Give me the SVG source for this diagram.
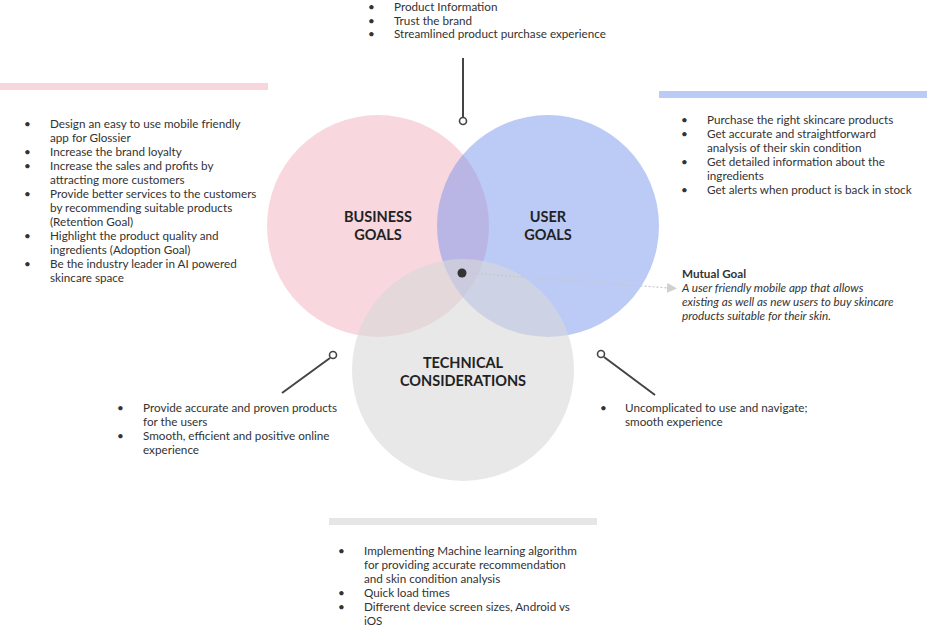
<svg xmlns="http://www.w3.org/2000/svg" width="927" height="626" viewBox="0 0 927 626">
<style>
.t{font-family:Lato,"Open Sans","Liberation Sans",sans-serif;font-size:11.7px;fill:#333}
.h{font-family:Lato,"Open Sans","Liberation Sans",sans-serif;font-size:14.5px;font-weight:bold;fill:#222;text-anchor:middle}
.b{font-weight:bold}
.i{font-style:italic}
.ln{stroke:#444;stroke-width:2;fill:none}
.ring{stroke:#444;stroke-width:1.6;fill:#fff}
</style>
<defs>
<marker id="ah" viewBox="0 0 10 10" refX="2" refY="5" markerWidth="10" markerHeight="10" markerUnits="userSpaceOnUse" orient="auto">
<path d="M0,0 L10,5 L0,10 z" fill="#d0d0d0"/>
</marker>
</defs>
<rect width="927" height="626" fill="#fff"/>
<g id="business">
<rect x="0" y="83" width="268" height="7" fill="#f7d6dd"/>
<circle cx="378" cy="226" r="111" fill="#f8d7de"/>
</g>
<g id="user">
<rect x="659" y="91" width="268" height="7" fill="#bccaf6"/>
<circle cx="548" cy="226" r="111" fill="#7995ed" fill-opacity="0.5"/>
</g>
<g id="technical">
<rect x="329" y="518" width="268" height="7" fill="#e6e6e6"/>
<circle cx="463" cy="370" r="111" fill="#d8d8d8" fill-opacity="0.6"/>
</g>
<g id="labels">
<text class="h" x="378" y="222">BUSINESS</text>
<text class="h" x="378" y="240">GOALS</text>
<text class="h" x="548" y="222">USER</text>
<text class="h" x="548" y="240">GOALS</text>
<text class="h" x="463" y="368">TECHNICAL</text>
<text class="h" x="463" y="386">CONSIDERATIONS</text>
</g>
<g id="connectors">
<line class="ln" x1="463" y1="58" x2="463" y2="117"/>
<circle class="ring" cx="463" cy="121" r="3.5"/>
<line class="ln" x1="282" y1="393" x2="330" y2="358"/>
<circle class="ring" cx="333" cy="355" r="3.5"/>
<line class="ln" x1="655" y1="395" x2="604" y2="357"/>
<circle class="ring" cx="601" cy="354" r="3.5"/>
<line x1="469" y1="273" x2="669" y2="288" stroke="#c8c8c8" stroke-width="1.2" stroke-dasharray="2,2" marker-end="url(#ah)"/>
<circle cx="462" cy="273" r="4.5" fill="#333"/>
</g>
<g id="top-text" class="t">
<text x="368" y="11">•</text><text x="394" y="11">Product Information</text>
<text x="368" y="24.5">•</text><text x="394" y="24.5">Trust the brand</text>
<text x="368" y="38">•</text><text x="394" y="38">Streamlined product purchase experience</text>
</g>
<g id="business-text" class="t">
<text x="24" y="128">•</text><text x="50" y="128">Design an easy to use mobile friendly</text>
<text x="50" y="142">app for Glossier</text>
<text x="24" y="156">•</text><text x="50" y="156">Increase the brand loyalty</text>
<text x="24" y="170">•</text><text x="50" y="170">Increase the sales and profits by</text>
<text x="50" y="184">attracting more customers</text>
<text x="24" y="198">•</text><text x="50" y="198">Provide better services to the customers</text>
<text x="50" y="212">by recommending suitable products</text>
<text x="50" y="226">(Retention Goal)</text>
<text x="24" y="240">•</text><text x="50" y="240">Highlight the product quality and</text>
<text x="50" y="254">ingredients (Adoption Goal)</text>
<text x="24" y="268">•</text><text x="50" y="268">Be the industry leader in AI powered</text>
<text x="50" y="282">skincare space</text>
</g>
<g id="user-text" class="t">
<text x="681" y="124">•</text><text x="707" y="124">Purchase the right skincare products</text>
<text x="681" y="138">•</text><text x="707" y="138">Get accurate and straightforward</text>
<text x="707" y="152">analysis of their skin condition</text>
<text x="681" y="166">•</text><text x="707" y="166">Get detailed information about the</text>
<text x="707" y="180">ingredients</text>
<text x="681" y="194">•</text><text x="707" y="194">Get alerts when product is back in stock</text>
</g>
<g id="mutual-goal" class="t">
<text class="b" x="682" y="278">Mutual Goal</text>
<text class="i" x="682" y="292">A user friendly mobile app that allows</text>
<text class="i" x="682" y="306">existing as well as new users to buy skincare</text>
<text class="i" x="682" y="320">products suitable for their skin.</text>
</g>
<g id="left-text" class="t">
<text x="117" y="412">•</text><text x="143" y="412">Provide accurate and proven products</text>
<text x="143" y="426">for the users</text>
<text x="117" y="440">•</text><text x="143" y="440">Smooth, efficient and positive online</text>
<text x="143" y="454">experience</text>
</g>
<g id="right-text" class="t">
<text x="600" y="412">•</text><text x="625" y="412">Uncomplicated to use and navigate;</text>
<text x="625" y="426">smooth experience</text>
</g>
<g id="technical-text" class="t">
<text x="338" y="555">•</text><text x="364" y="555">Implementing Machine learning algorithm</text>
<text x="364" y="569">for providing accurate recommendation</text>
<text x="364" y="583">and skin condition analysis</text>
<text x="338" y="597">•</text><text x="364" y="597">Quick load times</text>
<text x="338" y="611">•</text><text x="364" y="611">Different device screen sizes, Android vs</text>
<text x="364" y="625">iOS</text>
</g>
</svg>
